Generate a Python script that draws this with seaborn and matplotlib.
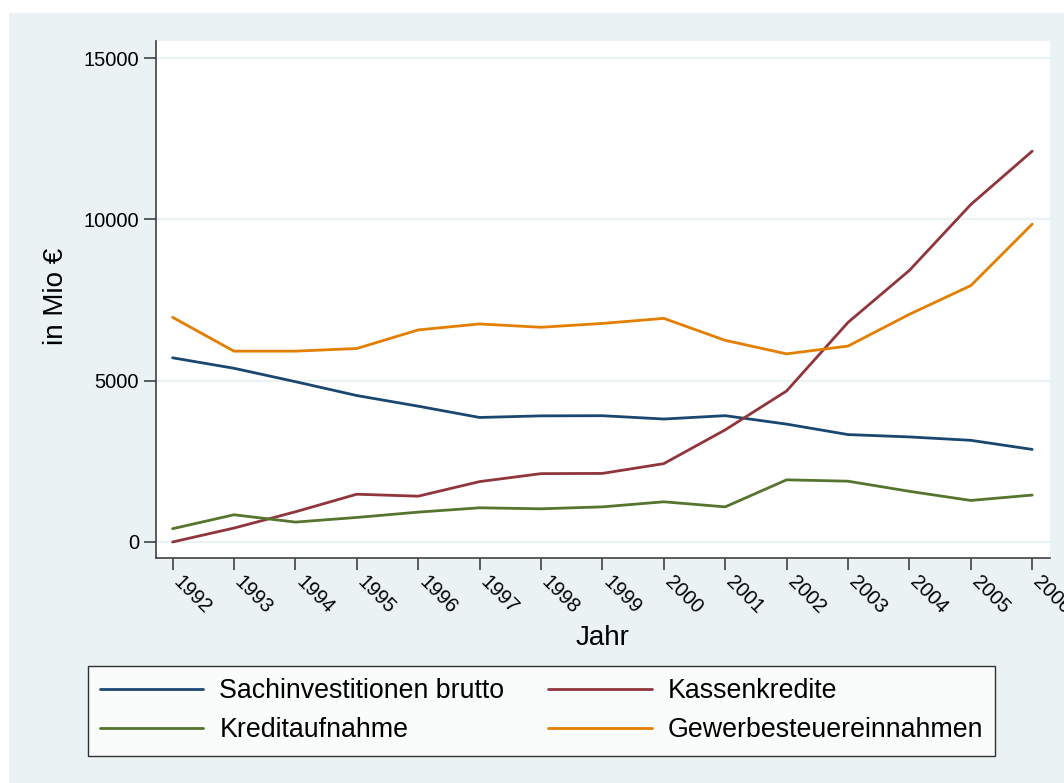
import numpy as np
import pandas as pd
import matplotlib
matplotlib.use("Agg")
import matplotlib.pyplot as plt
import seaborn as sns
from matplotlib.patches import Rectangle
from matplotlib.lines import Line2D

# Daten (in Mio €)
jahre = list(range(1992, 2007))
sachinvestitionen = [5710, 5385, 4970, 4540, 4210, 3860, 3910, 3915, 3812, 3916, 3654, 3330, 3257, 3152, 2870]
kassenkredite = [0, 432, 936, 1481, 1420, 1872, 2119, 2126, 2429, 3476, 4681, 6806, 8419, 10461, 12115]
kreditaufnahme = [412, 844, 617, 761, 926, 1060, 1029, 1089, 1246, 1089, 1927, 1885, 1571, 1288, 1455]
gewerbesteuer = [6965, 5916, 5916, 5998, 6574, 6759, 6656, 6775, 6932, 6251, 5832, 6073, 7058, 7948, 9853]

serien = ['Sachinvestitionen brutto', 'Kassenkredite', 'Kreditaufnahme', 'Gewerbesteuereinnahmen']
farben = {
    'Sachinvestitionen brutto': '#1a476f',
    'Kassenkredite': '#90353b',
    'Kreditaufnahme': '#55752f',
    'Gewerbesteuereinnahmen': '#e37e00',
}

df = pd.concat([
    pd.DataFrame({'Jahr': jahre, 'Wert': werte, 'Serie': name})
    for name, werte in zip(serien, [sachinvestitionen, kassenkredite, kreditaufnahme, gewerbesteuer])
], ignore_index=True)

bg = '#eaf2f3'
sns.set_style('white')
plt.rcParams['font.family'] = ['Liberation Sans', 'DejaVu Sans']
plt.rcParams['text.color'] = 'black'
plt.rcParams['axes.labelcolor'] = 'black'

fig = plt.figure(figsize=(10.64, 7.83), dpi=100)
fig.patch.set_facecolor('white')
# Stata-artiger Hintergrund
fig.add_artist(Rectangle((9 / 1064, 0), 1 - 9 / 1064, 1 - 13 / 783,
                         transform=fig.transFigure, facecolor=bg, edgecolor='none', zorder=-10))

ax = fig.add_axes([156 / 1064, 1 - 558 / 783, (1050 - 156) / 1064, (558 - 41) / 783])
ax.set_facecolor('white')

sns.lineplot(data=df, x='Jahr', y='Wert', hue='Serie', hue_order=serien,
             palette=farben, linewidth=2, ax=ax, legend=False)

ax.set_xlim(1991.73, 2006.29)
ax.set_ylim(-496, 15530)
ax.set_yticks([0, 5000, 10000, 15000])
ax.set_yticklabels(['0', '5000', '10000', '15000'], fontsize=14.5, color='black')
ax.set_xticks(jahre)
ax.set_xticklabels([str(j) for j in jahre], rotation=-45, ha='left', va='baseline',
                   rotation_mode='anchor', fontsize=14.5, color='black')
ax.grid(axis='y', color=bg, linewidth=1.6)
ax.set_axisbelow(True)

for s in ['top', 'right']:
    ax.spines[s].set_visible(False)
for s in ['left', 'bottom']:
    ax.spines[s].set_color('#404040')
    ax.spines[s].set_linewidth(1.2)
ax.tick_params(axis='both', direction='out', length=8.6, width=1.2, color='#404040',
               left=True, bottom=True)
ax.tick_params(axis='y', pad=3.6)
ax.tick_params(axis='x', pad=9.4)

ax.set_xlabel('Jahr', fontsize=20)
ax.set_ylabel('in Mio €', fontsize=20)
ax.xaxis.set_label_coords(0.5, (558 - 625) / 517)
ax.yaxis.set_label_coords((69 - 156) / 894, (558 - 296) / 517)

# Legende: Reihenfolge so, dass Zeilen wie im Original stehen
reihenfolge = ['Sachinvestitionen brutto', 'Kreditaufnahme', 'Kassenkredite', 'Gewerbesteuereinnahmen']
handles = [Line2D([], [], color=farben[n], linewidth=2) for n in reihenfolge]
leg = fig.legend(handles, reihenfolge, ncol=2, loc='upper left',
                 bbox_to_anchor=(88 / 1064, 1 - 666 / 783), borderaxespad=0,
                 fontsize=19.3, frameon=True, fancybox=False, edgecolor='black',
                 handlelength=3.85, handletextpad=0.6, columnspacing=1.64,
                 borderpad=0.45, labelspacing=0.5)
leg.get_frame().set_linewidth(1.0)
leg.get_frame().set_facecolor('white')

fig.savefig('out.png', dpi=100, facecolor=fig.get_facecolor())
